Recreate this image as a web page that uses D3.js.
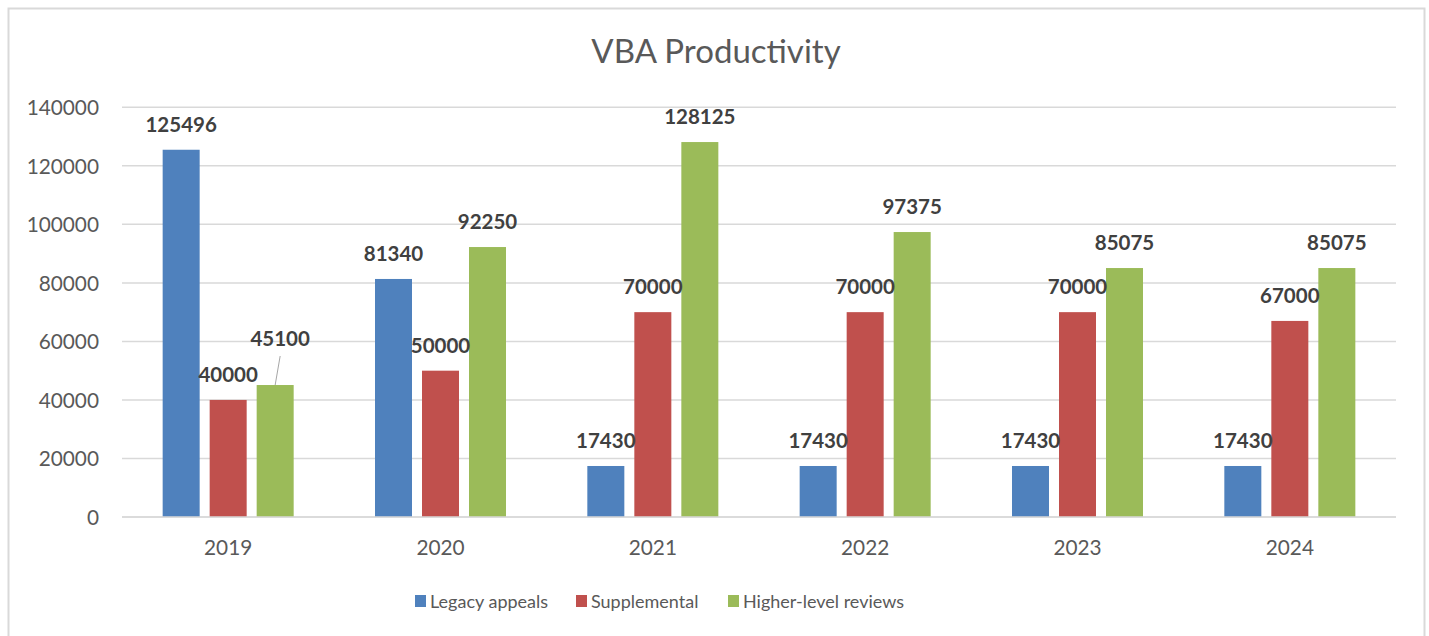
<!DOCTYPE html>
<html>
<head>
<meta charset="utf-8">
<script src="https://cdn.jsdelivr.net/npm/d3@7"></script>
<style>
  html, body { margin: 0; padding: 0; background: #fff; }
  svg { display: block; }
  text { font-family: Lato, "Open Sans", sans-serif; }
</style>
</head>
<body>
<svg id="chart" width="1429" height="636"></svg>
<script>
const categories = ["2019", "2020", "2021", "2022", "2023", "2024"];
const seriesNames = ["Legacy appeals", "Supplemental", "Higher-level reviews"];
const legacyAppeals = [125496, 81340, 17430, 17430, 17430, 17430];
const supplemental = [40000, 50000, 70000, 70000, 70000, 67000];
const higherLevelReviews = [45100, 92250, 128125, 97375, 85075, 85075];
const yTicks = [0, 20000, 40000, 60000, 80000, 100000, 120000, 140000];
const colors = ["#4F81BD", "#C0504D", "#9BBB59"];
const titleText = "VBA Productivity";

const seriesValues = [legacyAppeals, supplemental, higherLevelReviews];

(function () {
const svg = d3.select("#chart");
const plotL = 122, plotR = 1396, plotT = 107.3, plotB = 517;

// outer border
svg.append("rect")
  .attr("x", 8.5).attr("y", 8.5)
  .attr("width", 1416).attr("height", 640)
  .attr("fill", "#fff").attr("stroke", "#d9d9d9").attr("stroke-width", 2);

// title
svg.append("text")
  .attr("x", 716).attr("y", 63)
  .attr("text-anchor", "middle")
  .attr("font-size", 33)
  .attr("fill", "#595959")
  .text(titleText);

const y = d3.scaleLinear().domain([0, 140000]).range([plotB, plotT]);
const x0 = d3.scaleBand().domain(categories).range([plotL, plotR])
  .paddingInner(0.383).paddingOuter(0.383 / 2);
const x1 = d3.scaleBand().domain(seriesNames).range([0, x0.bandwidth()])
  .paddingInner(10 / 47);

// gridlines
svg.append("g").selectAll("line").data(yTicks).join("line")
  .attr("x1", plotL).attr("x2", plotR)
  .attr("y1", d => y(d)).attr("y2", d => y(d))
  .attr("stroke", "#d9d9d9").attr("stroke-width", 1.5);

// y axis labels
const yAxis = d3.axisLeft(y).tickValues(yTicks).tickSize(0).tickPadding(0)
  .tickFormat(d3.format("d"));
const gy = svg.append("g").attr("transform", `translate(${plotL - 23},0)`).call(yAxis);
gy.select(".domain").remove();
gy.selectAll("text").attr("font-size", 20.8).attr("fill", "#595959")
  .attr("font-family", "Lato, sans-serif").attr("dy", "0.35em");

// x axis labels
const xAxis = d3.axisBottom(x0).tickSize(0).tickPadding(0);
const gx = svg.append("g").attr("transform", `translate(0,${plotB + 23})`).call(xAxis);
gx.select(".domain").remove();
gx.selectAll("text").attr("font-size", 20.8).attr("fill", "#595959")
  .attr("font-family", "Lato, sans-serif").attr("dy", "0.71em");

// data table
const rows = [];
categories.forEach((c, i) => {
  seriesNames.forEach((s, j) => {
    rows.push({ cat: c, series: s, si: j, value: seriesValues[j][i] });
  });
});

// bars
svg.append("g").selectAll("rect").data(rows).join("rect")
  .attr("x", d => x0(d.cat) + x1(d.series))
  .attr("y", d => y(d.value))
  .attr("width", x1.bandwidth())
  .attr("height", d => y(0) - y(d.value))
  .attr("fill", d => colors[d.si]);

// axis baseline
svg.append("line").attr("x1", plotL).attr("x2", plotR)
  .attr("y1", plotB).attr("y2", plotB)
  .attr("stroke", "#d9d9d9").attr("stroke-width", 1.5);

// data labels
const lg = svg.append("g");
const placed = [];
rows.forEach(d => {
  const cx = x0(d.cat) + x1(d.series) + x1.bandwidth() / 2;
  let by = y(d.value) - 18;
  let tx = cx;
  const t = lg.append("text")
    .attr("x", tx).attr("y", by)
    .attr("text-anchor", "middle")
    .attr("font-size", 20.5).attr("font-weight", "bold")
    .attr("fill", "#404040")
    .text(d.value);
  let bb = t.node().getBBox();
  const overlaps = placed.some(p => !(bb.x + bb.width < p.x || p.x + p.width < bb.x ||
    bb.y + bb.height < p.y || p.y + p.height < bb.y));
  if (overlaps) {
    tx = cx + 5; by = by - 21;
    t.attr("x", tx).attr("y", by);
    bb = t.node().getBBox();
    lg.append("line")
      .attr("x1", tx).attr("y1", by + 10)
      .attr("x2", cx).attr("y2", y(d.value))
      .attr("stroke", "#a6a6a6").attr("stroke-width", 1);
  }
  placed.push(bb);
});

// legend
const legendX = [415, 576, 728];
const leg = svg.append("g");
seriesNames.forEach((s, i) => {
  leg.append("rect").attr("x", legendX[i]).attr("y", 595)
    .attr("width", 11).attr("height", 12).attr("fill", colors[i]);
  leg.append("text").attr("x", legendX[i] + 15).attr("y", 608)
    .attr("font-size", 18).attr("fill", "#595959").text(s);
});
})();
</script>
</body>
</html>
